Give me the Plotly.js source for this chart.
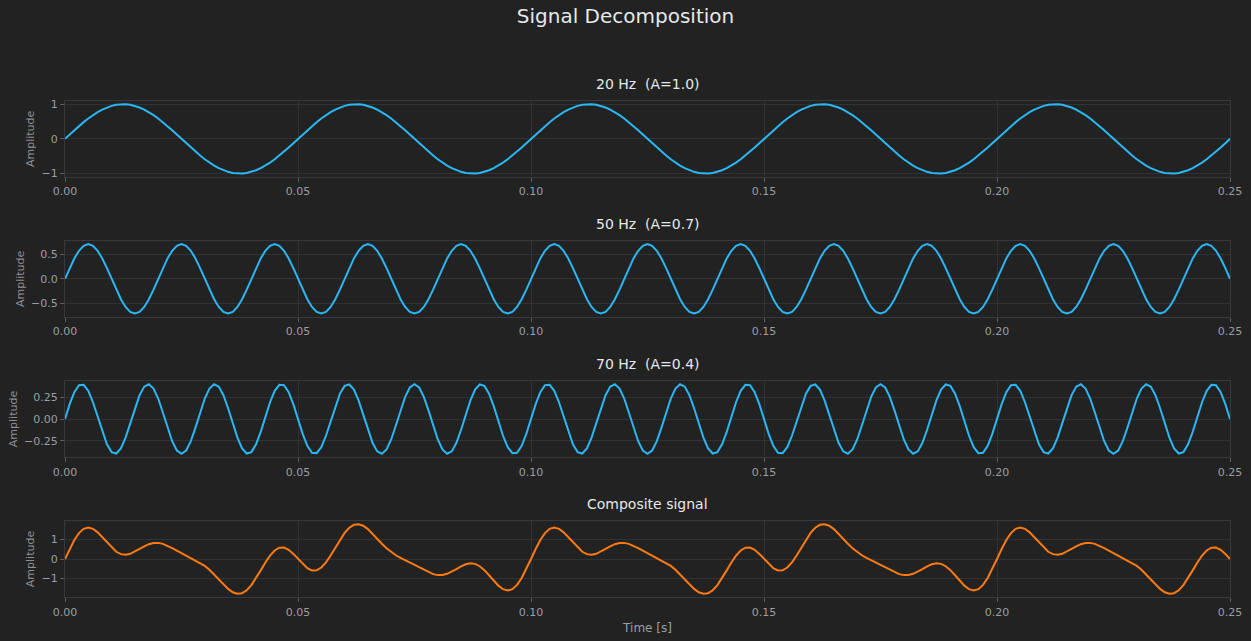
<!DOCTYPE html>
<html>
<head>
<meta charset="utf-8">
<script src="https://cdn.plot.ly/plotly-3.0.1.min.js"></script>
<style>html,body{margin:0;padding:0;background:#222222;}#chart{width:1251px;height:641px;}</style>
</head>
<body>
<div id="chart"></div>
<script>
// Component parameters
const frequencies = [20, 50, 70];          // Hz
const amplitudes = [1.0, 0.7, 0.4];
const panelTitles = ["20 Hz  (A=1.0)", "50 Hz  (A=0.7)", "70 Hz  (A=0.4)", "Composite signal"];
const sampleRate = 1000;                    // samples per second
const duration = 0.25;                      // seconds
const xTickVals = [0, 0.05, 0.10, 0.15, 0.20, 0.25];
const xTickText = ["0.00", "0.05", "0.10", "0.15", "0.20", "0.25"];
const yTickVals = [[-1, 0, 1], [-0.5, 0, 0.5], [-0.25, 0, 0.25], [-1, 0, 1]];
const yTickText = [["−1", "0", "1"], ["−0.5", "0.0", "0.5"], ["−0.25", "0.00", "0.25"], ["−1", "0", "1"]];

const nSamples = Math.round(duration * sampleRate) + 1;
const time = Array.from({length: nSamples}, (_, i) => i / sampleRate);
const components = frequencies.map((f, k) => time.map(t => amplitudes[k] * Math.sin(2 * Math.PI * f * t)));
const composite = time.map((_, i) => components.reduce((s, c) => s + c[i], 0));
const series = components.concat([composite]);

const BLUE = "#2bb7f4", ORANGE = "#ff7a12";
const FONT = "'DejaVu Sans', sans-serif";
const H = 641;
const panels = [[100.7, 177], [240.7, 317], [380.7, 457.3], [520.7, 597.3]];

const traces = series.map((ys, k) => ({
  x: time, y: ys, type: "scatter", mode: "lines",
  line: {color: k === 3 ? ORANGE : BLUE, width: 2},
  xaxis: k === 0 ? "x" : "x" + (k + 1), yaxis: k === 0 ? "y" : "y" + (k + 1),
  hoverinfo: "skip", showlegend: false
}));

const layout = {
  width: 1251, height: H,
  paper_bgcolor: "#222222", plot_bgcolor: "#222222",
  margin: {l: 65, r: 21, t: 0, b: 0},
  font: {family: FONT, color: "#9a9ea3", size: 11},
  title: {text: "Signal Decomposition", font: {family: FONT, size: 20, color: "#e6e8ea"},
          x: 0.5, xanchor: "center", xref: "container", y: 1 - 16 / H, yanchor: "middle", yref: "container"},
  annotations: [], showlegend: false
};

series.forEach((ys, k) => {
  const sx = k === 0 ? "" : String(k + 1);
  const dom = [1 - panels[k][1] / H, 1 - panels[k][0] / H];
  let lo, hi;
  if (k < 3) { lo = -amplitudes[k] * 1.1; hi = amplitudes[k] * 1.1; }
  else {
    const mn = Math.min(...ys), mx = Math.max(...ys), pad = (mx - mn) * 0.05;
    lo = mn - pad; hi = mx + pad;
  }
  layout["xaxis" + sx] = {
    domain: [0, 1], anchor: "y" + sx, range: [0, duration],
    tickvals: xTickVals, ticktext: xTickText, ticks: "outside", ticklen: 4, tickwidth: 1,
    tickcolor: "#5a5e63", showline: true, linecolor: "#363a3f", mirror: true, linewidth: 1,
    showgrid: true, gridcolor: "#303336", gridwidth: 1, zeroline: false,
    tickfont: {family: FONT, size: 11, color: "#9a9ea3"},
    title: k === 3 ? {text: "Time [s]", font: {family: FONT, size: 12, color: "#9a9ea3"}, standoff: 6} : {text: ""}
  };
  layout["yaxis" + sx] = {
    domain: dom, anchor: "x" + sx, range: [lo, hi],
    tickvals: yTickVals[k], ticktext: yTickText[k], ticks: "outside", ticklen: 4, tickwidth: 1,
    tickcolor: "#5a5e63", showline: true, linecolor: "#363a3f", mirror: true, linewidth: 1,
    showgrid: true, gridcolor: "#303336", gridwidth: 1, zeroline: false,
    tickfont: {family: FONT, size: 11, color: "#9a9ea3"},
    title: {text: "Amplitude", font: {family: FONT, size: 11, color: "#8d9196"}, standoff: 4}
  };
  layout.annotations.push({
    text: panelTitles[k], xref: "paper", yref: "paper", x: 0.5, y: dom[1],
    xanchor: "center", yanchor: "bottom", yshift: 7, showarrow: false,
    font: {family: FONT, size: 14, color: "#e6e8ea"}
  });
});

Plotly.newPlot("chart", traces, layout, {staticPlot: true, displayModeBar: false});
</script>
</body>
</html>
